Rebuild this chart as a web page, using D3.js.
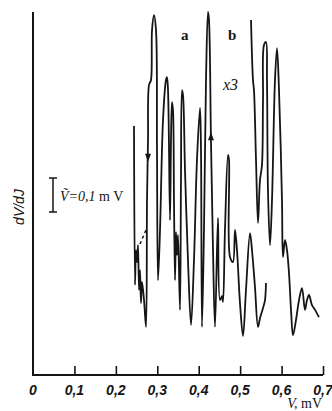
<!DOCTYPE html>
<html><head><meta charset="utf-8">
<script src="https://cdn.jsdelivr.net/npm/d3@7"></script>
<style>body{margin:0;background:#fff}svg{display:block}</style>
</head><body>
<script>
// ---- data ----
const xTicks = [0, 0.1, 0.2, 0.3, 0.4, 0.5, 0.6, 0.7];
const xTickLabels = ["0", "0,1", "0,2", "0,3", "0,4", "0,5", "0,6", "0,7"];
// curve a: bias V (mV) and dV/dJ (arb. units)
const aV = [0.2438,0.2462,0.2486,0.2511,0.2535,0.2559,0.2583,0.2607,0.2631,0.2680,0.2728,0.2752,0.2776,0.2800,0.2848,0.2873,0.2921,0.2969,0.2993,0.3017,0.3066,0.3138,0.3210,0.3234,0.3259,0.3307,0.3331,0.3355,0.3379,0.3403,0.3428,0.3452,0.3476,0.3500,0.3548,0.3572,0.3597,0.3621,0.3669,0.3741,0.3814,0.3886,0.3958,0.4031,0.4055,0.4079,0.4127,0.4176,0.4224,0.4248,0.4296,0.4345,0.4393,0.4465,0.4514,0.4562,0.4586,0.4634,0.4707,0.4731,0.4755,0.4827,0.4876,0.4924,0.4996,0.5069,0.5141,0.5238,0.5286,0.5358,0.5431,0.5479,0.5552,0.5600,0.5624];
const aG = [68.8,24.9,34.5,31.2,35.9,23.5,29.0,19.9,25.7,20.7,13.3,48.3,64.9,80.1,81.5,95.3,99.4,95.3,62.2,26.2,40.1,70.4,81.5,82.3,78.7,42.8,64.9,75.4,73.2,48.3,26.2,39.5,33.1,38.7,18.0,53.9,78.7,77.3,56.6,31.8,13.8,31.8,59.4,73.8,62.2,13.3,40.1,81.5,100.3,98.1,64.9,34.5,13.3,43.4,20.7,21.8,20.2,40.1,60.8,59.4,32.6,31.2,40.1,34.5,19.9,10.8,23.5,39.2,34.5,24.3,13.3,15.7,18.5,20.7,25.4];
// curve b (x3)
const bV = [0.5262,0.5310,0.5334,0.5383,0.5431,0.5479,0.5527,0.5552,0.5576,0.5624,0.5648,0.5672,0.5721,0.5769,0.5841,0.5890,0.5938,0.6010,0.6034,0.6083,0.6131,0.6179,0.6228,0.6276,0.6348,0.6421,0.6493,0.6565,0.6614,0.6662,0.6734,0.6807,0.6903];
const bG = [98.1,81.5,78.7,59.4,42.0,53.9,58.0,76.0,91.2,92.0,81.5,51.1,35.9,48.3,81.5,90.3,78.7,48.3,32.6,37.3,34.5,28.2,18.0,11.0,15.2,20.7,24.0,18.0,20.7,22.1,19.3,18.0,16.0];
// dashed fragment
const dV = [0.2583, 0.2728];
const dG = [36.2, 40.1];
// sweep-direction arrows
const arrowV = [0.2776, 0.4296];
const arrowG = [60.0, 66.0];
const arrowDir = ["down", "up"];

const W = 332, H = 411;
const svg = d3.select("body").append("svg").attr("width", W).attr("height", H);
const x = d3.scaleLinear().domain([0, 0.7]).range([33, 323]);
const y = d3.scaleLinear().domain([0, 100.3]).range([375, 12]);
const ink = "#151515";

// axes
const xAxis = d3.axisBottom(x).tickValues(xTicks.slice(1)).tickSize(-9).tickFormat("");
const gx = svg.append("g").attr("transform", "translate(0,375)").call(xAxis);
gx.select(".domain").attr("d", `M${x(0)},0H${x(0.7)}`).attr("stroke", ink).attr("stroke-width", 2);
gx.selectAll(".tick line").attr("stroke", ink).attr("stroke-width", 1.6);
svg.append("line").attr("x1", x(0)).attr("x2", x(0)).attr("y1", 12).attr("y2", 376)
  .attr("stroke", ink).attr("stroke-width", 2);

svg.append("g").selectAll("text").data(xTicks).join("text")
  .attr("x", d => x(d)).attr("y", 395).attr("text-anchor", "middle")
  .attr("font-family", "Liberation Sans Narrow, Liberation Sans, sans-serif").attr("font-style", "italic")
  .attr("font-weight", "bold").attr("font-size", 14).attr("fill", ink)
  .text((d, i) => xTickLabels[i]);

const xl = svg.append("text").attr("x", 322).attr("y", 408).attr("text-anchor", "end")
  .attr("font-family", "Liberation Serif, serif").attr("font-size", 14).attr("fill", ink);
xl.append("tspan").attr("font-style", "italic").text("V, ");
xl.append("tspan").text("mV");

svg.append("text").attr("transform", "translate(24,207) rotate(-90)").attr("text-anchor", "middle")
  .attr("font-family", "Liberation Sans, sans-serif").attr("font-style", "italic")
  .attr("font-size", 14).attr("fill", ink).text("dV/dJ");

// modulation scale bar
const sb = svg.append("g").attr("stroke", ink).attr("stroke-width", 1.5);
sb.append("line").attr("x1", 53).attr("x2", 53).attr("y1", 178).attr("y2", 212);
sb.append("line").attr("x1", 49).attr("x2", 57).attr("y1", 178).attr("y2", 178);
sb.append("line").attr("x1", 49).attr("x2", 57).attr("y1", 212).attr("y2", 212);
svg.append("text").attr("x", 60).attr("y", 201)
  .attr("font-family", "Liberation Serif, serif").attr("font-size", 14).attr("fill", ink)
  .html('<tspan font-style="italic">Ṽ=0,1</tspan> m V');

// curves
const line = d3.line().x(d => x(d[0])).y(d => y(d[1])).curve(d3.curveCatmullRom.alpha(0.5));
const ptsA = aV.map((v, i) => [v, aG[i]]);
const ptsB = bV.map((v, i) => [v, bG[i]]);
svg.append("path").attr("d", line(ptsA)).attr("fill", "none").attr("stroke", ink)
  .attr("stroke-width", 1.8).attr("stroke-linejoin", "round");
svg.append("path").attr("d", line(ptsB)).attr("fill", "none").attr("stroke", ink)
  .attr("stroke-width", 1.8).attr("stroke-linejoin", "round");
svg.append("path").attr("d", d3.line().x(d => x(d[0])).y(d => y(d[1]))(dV.map((v, i) => [v, dG[i]])))
  .attr("fill", "none").attr("stroke", ink).attr("stroke-width", 1.5).attr("stroke-dasharray", "3,3");

// arrows
svg.append("g").selectAll("path").data(arrowV).join("path")
  .attr("transform", (d, i) => `translate(${x(d)},${y(arrowG[i])})`)
  .attr("d", (d, i) => arrowDir[i] === "down" ? "M-3,-4L3,-4L0,4Z" : "M-3,4L3,4L0,-4Z")
  .attr("fill", ink);

// labels
svg.append("text").attr("x", 181).attr("y", 40).attr("font-family", "Liberation Serif, serif")
  .attr("font-weight", "bold").attr("font-size", 15).attr("fill", ink).text("a");
svg.append("text").attr("x", 228).attr("y", 40).attr("font-family", "Liberation Serif, serif")
  .attr("font-weight", "bold").attr("font-size", 15).attr("fill", ink).text("b");
svg.append("text").attr("x", 223).attr("y", 90).attr("font-family", "Liberation Serif, serif")
  .attr("font-style", "italic").attr("font-size", 16).attr("fill", ink).text("x3");
</script>
</body></html>
